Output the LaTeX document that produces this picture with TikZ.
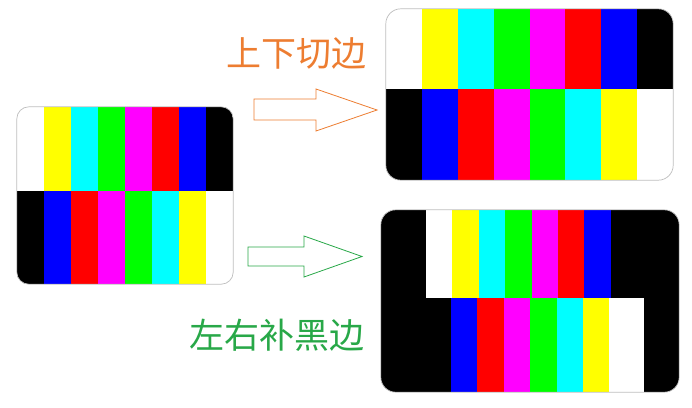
\documentclass[tikz,border=0pt]{standalone}
\usepackage{fontspec}
\newfontfamily\cjk{Noto Sans CJK SC}
\usepackage{xcolor}
\usetikzlibrary{positioning}
\definecolor{cutorange}{RGB}{237,125,49}
\definecolor{padgreen}{RGB}{40,168,72}
\definecolor{framegray}{RGB}{190,190,190}
\definecolor{barW}{RGB}{255,255,255}
\definecolor{barY}{RGB}{255,255,0}
\definecolor{barC}{RGB}{0,255,255}
\definecolor{barG}{RGB}{0,255,0}
\definecolor{barM}{RGB}{255,0,255}
\definecolor{barR}{RGB}{255,0,0}
\definecolor{barB}{RGB}{0,0,255}
\definecolor{barK}{RGB}{0,0,0}

\begin{document}
\begin{tikzpicture}[x=1pt, y=-1pt,
    frame/.style={draw=framegray, line width=0.7pt, rounded corners=#1},
    blockarrow/.style={draw=#1, line width=0.8pt, fill=white},
    caption/.style={font=\cjk\fontsize{35}{40}\selectfont, inner sep=0pt}]
    \useasboundingbox (0,0) rectangle (692,407);

    % source picture
    \node[minimum width=216pt, minimum height=177pt, inner sep=0pt] (src) at (125,195.5) {};
    \begin{scope}
        \clip[rounded corners=12pt] (src.north west) rectangle (src.south east);
        \foreach \c [count=\i from 0] in {W,Y,C,G,M,R,B,K}
            \fill[bar\c] (17+27*\i,107) rectangle +(27,83.5);
        \foreach \c [count=\i from 0] in {K,B,R,M,G,C,Y,W}
            \fill[bar\c] (17+27*\i,190.5) rectangle +(27,93.5);
    \end{scope}
    \draw[frame=12pt] (src.north west) rectangle (src.south east);

    % cut top and bottom
    \node[minimum width=287pt, minimum height=171pt, inner sep=0pt] (cut) at (529.5,94.5) {};
    \begin{scope}
        \clip[rounded corners=15pt] (cut.north west) rectangle (cut.south east);
        \foreach \c [count=\i from 0] in {W,Y,C,G,M,R,B,K}
            \fill[bar\c] (386+35.875*\i,9) rectangle +(35.875,80);
        \foreach \c [count=\i from 0] in {K,B,R,M,G,C,Y,W}
            \fill[bar\c] (386+35.875*\i,89) rectangle +(35.875,91);
    \end{scope}
    \draw[frame=15pt] (cut.north west) rectangle (cut.south east);

    % pad left and right
    \node[minimum width=298pt, minimum height=182pt, inner sep=0pt] (pad) at (530,301) {};
    \begin{scope}
        \clip[rounded corners=15pt] (pad.north west) rectangle (pad.south east);
        \fill[barK] (pad.north west) rectangle (pad.south east);
        \foreach \c [count=\i from 0] in {W,Y,C,G,M,R,B}
            \fill[bar\c] (426+26.4*\i,210) rectangle +(26.4,88);
        \foreach \c [count=\i from 0] in {B,R,M,G,C,Y}
            \fill[bar\c] (451+26.4*\i,298) rectangle +(26.4,94);
        \fill[barW] (609.4,298) rectangle (644,392);
    \end{scope}
    \draw[frame=15pt] (pad.north west) rectangle (pad.south east);

    % arrows
    \draw[blockarrow=cutorange] (254,99) -- (316,99) -- (316,89) -- (377,110)
        -- (316,131) -- (316,120) -- (254,120) -- cycle;
    \draw[blockarrow=padgreen] (248,247) -- (304,247) -- (304,236) -- (362,256.5)
        -- (304,277) -- (304,266) -- (248,266) -- cycle;

    \node[caption, text=cutorange] (cutlabel) at (296.5,53) {上下切边};
    \node[caption, text=padgreen] (padlabel) at (276.5,335) {左右补黑边};
\end{tikzpicture}
\end{document}
